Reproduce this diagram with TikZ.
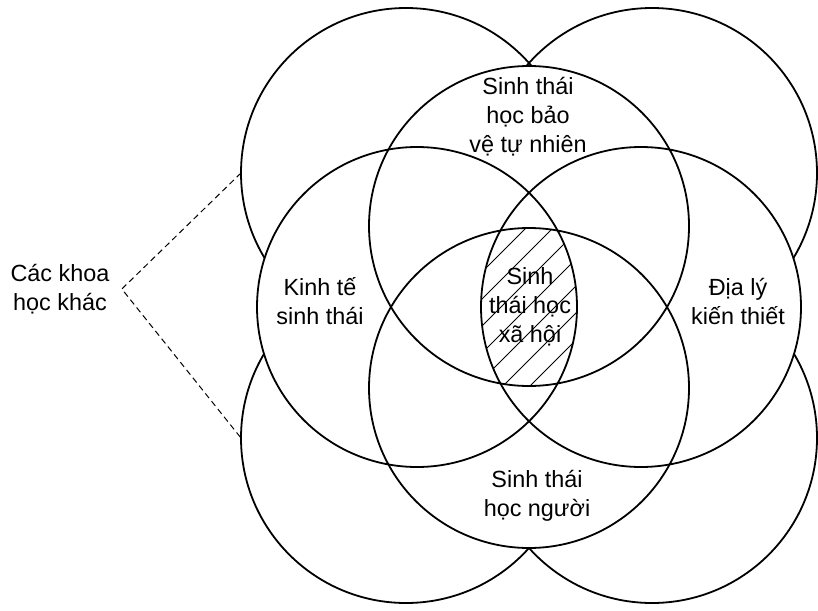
\documentclass[tikz,border=0pt]{standalone}
\usepackage{fontspec}
\setmainfont{Liberation Sans}
\usetikzlibrary{positioning}
\tikzset{
  outring/.style={circle, draw, line width=0.9pt, minimum size=165pt,
                  inner sep=0pt, outer sep=0pt},
  inring/.style={circle, fill=white, minimum size=160pt,
                 inner sep=0pt, outer sep=0pt},
  rim/.style={line width=0.9pt},
  hatch/.style={line width=0.5pt},
  txt/.style={align=center, inner sep=0pt,
              font=\fontsize{11.7}{14.5}\selectfont}
}
\begin{document}
\begin{tikzpicture}[x=0.5pt, y=-0.5pt]
  \useasboundingbox (0,0) rectangle (818,610);
  % Outer rings
  \foreach \x/\y/\n in {406/173/oNW, 652/173/oNE, 406/438/oSW, 652/438/oSE}
    \node[outring] (\n) at (\x,\y) {};
  % Inner rings (white, hide the outer ones)
  \foreach \x/\y/\n in {417/307/econ, 641/307/geog, 529/226/cons, 529/388/human}
    \node[inring] (\n) at (\x,\y) {};
  % Hatched core
  \begin{scope}
    \clip (econ.center) circle (80pt);
    \clip (geog.center) circle (80pt);
    \clip (cons.center) circle (80pt);
    \clip (human.center) circle (80pt);
    \foreach \s in {700,727,...,980}
      \draw[hatch] (\s-400,400) -- (\s-220,220);
  \end{scope}
  % Rims of the inner rings
  \foreach \n in {econ, geog, cons, human}
    \draw[rim] (\n.center) circle (80pt);
  % Labels
  \node[txt] (tCons) at (528,117) {Sinh thái\\học bảo\\vệ tự nhiên};
  \node[txt] (tEcon) at (320,301) {Kinh tế\\sinh thái};
  \node[txt] (tGeog) at (738,301) {Địa lý\\kiến thiết};
  \node[txt] (tCore) at (530,307) {Sinh\\thái học\\xã hội};
  \node[txt] (tHuman) at (537,496) {Sinh thái\\học người};
  \node[txt] (other) at (60,289) {Các khoa\\học khác};
  % Dashed brace to the outer rings
  \coordinate (tip) at ([xshift=6pt]other.east);
  \draw[line width=0.5pt, dash pattern=on 3pt off 2pt]
    (oNW.west) -- (tip) -- (oSW.west);
\end{tikzpicture}
\end{document}
